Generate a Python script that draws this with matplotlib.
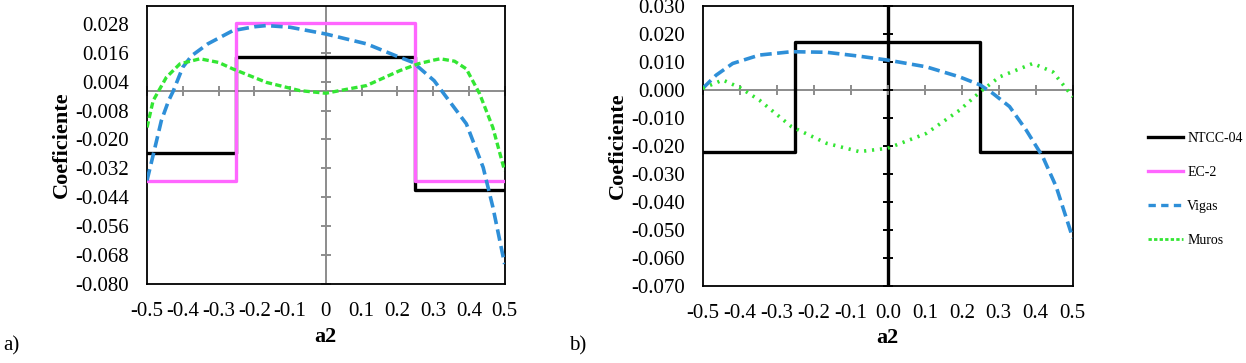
import numpy as np
import matplotlib
matplotlib.use("Agg")
import matplotlib.pyplot as plt

plt.rcParams['font.family'] = ['Liberation Serif', 'DejaVu Serif']

# ---- data, panel a ----
step_x = [-0.5, -0.25, -0.25, 0.25, 0.25, 0.5]
ntcc_a = [-0.0258, -0.0258, 0.0144, 0.0144, -0.041, -0.041]
ec2_a = [-0.0371, -0.0371, 0.0283, 0.0283, -0.0371, -0.0371]

vigas_a_x = [-0.5, -0.48, -0.46, -0.44, -0.427, -0.40, -0.375, -0.33, -0.26, -0.20,
             -0.166, -0.10, 0.0, 0.114, 0.20, 0.244, 0.303, 0.33, 0.393, 0.44, 0.467, 0.5]
vigas_a = [-0.037, -0.0247, -0.0122, -0.004, 0.0, 0.0100, 0.0148, 0.0197, 0.0252, 0.0268,
           0.0273, 0.0266, 0.0238, 0.0197, 0.0145, 0.0120, 0.0044, -0.001, -0.0135, -0.0316,
           -0.048, -0.0717]

muros_a_x = [-0.5, -0.483, -0.446, -0.408, -0.352, -0.30, -0.26, -0.166, -0.073, 0.0,
             0.114, 0.207, 0.26, 0.303, 0.32, 0.36, 0.393, 0.43, 0.467, 0.5]
muros_a = [-0.015, -0.0039, 0.0058, 0.0114, 0.0135, 0.0120, 0.0093, 0.0037, 0.0003, -0.0008,
           0.0024, 0.0086, 0.0115, 0.0130, 0.0135, 0.0125, 0.0093, -0.001, -0.015, -0.033]

# ---- data, panel b ----
ntcc_b = [-0.0221, -0.0221, 0.0169, 0.0169, -0.0221, -0.0221]

vigas_b_x = [-0.5, -0.464, -0.419, -0.347, -0.26, -0.166, -0.077, 0.0, 0.104, 0.194,
             0.25, 0.284, 0.329, 0.374, 0.419, 0.455, 0.5]
vigas_b = [0.0005, 0.0052, 0.0094, 0.0124, 0.0136, 0.0134, 0.0120, 0.0106, 0.0082, 0.0046,
           0.0017, -0.0013, -0.0060, -0.0144, -0.0240, -0.0346, -0.0530]

muros_b_x = [-0.5, -0.446, -0.40, -0.347, -0.26, -0.166, -0.077, 0.0, 0.104, 0.194,
             0.25, 0.302, 0.392, 0.446, 0.5]
muros_b = [0.0005, 0.0035, 0.0008, -0.0037, -0.0132, -0.0191, -0.0221, -0.0209, -0.0156,
           -0.0073, -0.0007, 0.0046, 0.0094, 0.0064, -0.0025]

x_ticks = [-0.5, -0.4, -0.3, -0.2, -0.1, 0.0, 0.1, 0.2, 0.3, 0.4, 0.5]
x_labels_a = ['-0.5', '-0.4', '-0.3', '-0.2', '-0.1', '0', '0.1', '0.2', '0.3', '0.4', '0.5']
x_labels_b = ['-0.5', '-0.4', '-0.3', '-0.2', '-0.1', '0.0', '0.1', '0.2', '0.3', '0.4', '0.5']
y_ticks_a = [-0.080, -0.068, -0.056, -0.044, -0.032, -0.020, -0.008, 0.004, 0.016, 0.028]
y_ticks_b = [-0.070, -0.060, -0.050, -0.040, -0.030, -0.020, -0.010, 0.000, 0.010, 0.020, 0.030]

BLACK = '#000000'
PINK = '#FF66FF'
BLUE = '#2E8FD8'
GREEN = '#33E633'
GRAY = '#8C8C8C'

fig = plt.figure(figsize=(12.46, 3.63), dpi=100)
ax_a = fig.add_axes([0.118, 0.2176, 0.287, 0.7664])
ax_b = fig.add_axes([0.564, 0.213, 0.297, 0.771])


def style_axes(ax, yticks, xlabels, ylim, vcolor, vlw):
    ax.set_xlim(-0.5, 0.5)
    ax.set_ylim(*ylim)
    ax.axhline(0, color=GRAY, lw=1.4, zorder=1)
    ax.axvline(0, color=vcolor, lw=vlw, zorder=1)
    # small cross ticks on the zero lines
    ax.plot(x_ticks, [0] * len(x_ticks), ls='none', marker='|', ms=7, mew=1.4,
            color=GRAY, zorder=1, clip_on=False)
    ax.plot([0] * len(yticks), yticks, ls='none', marker='_', ms=7, mew=1.4,
            color=vcolor, zorder=1, clip_on=False)
    ax.set_xticks(x_ticks)
    ax.set_xticklabels(xlabels)
    ax.set_yticks(yticks)
    ax.set_yticklabels([f'{v:.3f}' for v in yticks])
    ax.tick_params(length=0, labelsize=15, pad=13)
    for s in ax.spines.values():
        s.set_linewidth(1.3)
        s.set_color(BLACK)
    ax.set_xlabel('a2', fontsize=16, fontweight='bold', labelpad=4)
    ax.set_ylabel('Coeficiente', fontsize=16, fontweight='bold', labelpad=2)


style_axes(ax_a, y_ticks_a, x_labels_a, (-0.080, 0.0355), GRAY, 1.4)
style_axes(ax_b, y_ticks_b, x_labels_b, (-0.070, 0.030), BLACK, 2.4)

# panel a
l1, = ax_a.plot(step_x, ntcc_a, color=BLACK, lw=2.4, label='NTCC-04', zorder=2)
l2, = ax_a.plot(step_x, ec2_a, color=PINK, lw=2.4, label='EC-2', zorder=3)
l3, = ax_a.plot(vigas_a_x, vigas_a, color=BLUE, lw=2.6, dashes=(3.2, 1.5), label='Vigas', zorder=4)
l4, = ax_a.plot(muros_a_x, muros_a, color=GREEN, lw=2.4, dashes=(1.9, 1.0), label='Muros', zorder=5)

# panel b
ax_b.plot(step_x, ntcc_b, color=BLACK, lw=2.4, zorder=2)
ax_b.plot(vigas_b_x, vigas_b, color=BLUE, lw=2.6, dashes=(3.2, 1.5), zorder=4)
ax_b.plot(muros_b_x, muros_b, color=GREEN, lw=2.6, dashes=(0.6, 1.6), zorder=5)

# legend lines in the legend use finer dashes
h3 = plt.Line2D([], [], color=BLUE, lw=2.4, dashes=(2.2, 1.6))
h4 = plt.Line2D([], [], color=GREEN, lw=2.0, dashes=(1.2, 0.8))
fig.legend([l1, l2, h3, h4], ['NTCC-04', 'EC-2', 'Vigas', 'Muros'],
           loc='upper left', bbox_to_anchor=(0.9115, 0.672), frameon=False,
           fontsize=10, handlelength=2.5, handletextpad=0.3, labelspacing=1.52)

fig.text(0.003, 0.035, 'a)', fontsize=15)
fig.text(0.457, 0.035, 'b)', fontsize=15)

fig.savefig('out.png', dpi=100)
